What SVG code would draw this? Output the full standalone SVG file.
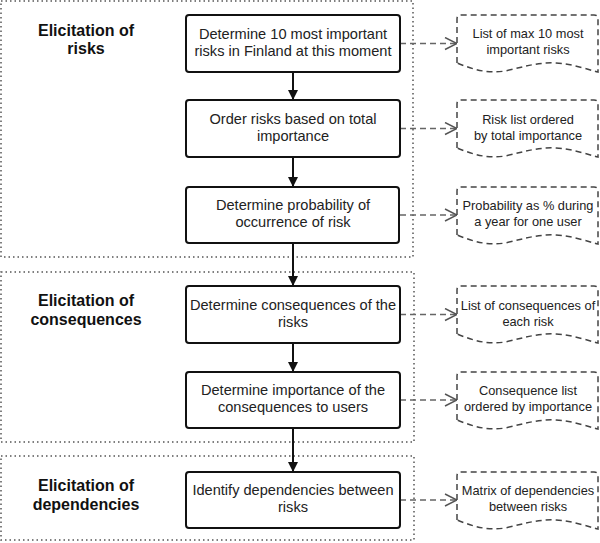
<svg xmlns="http://www.w3.org/2000/svg" width="600" height="543" viewBox="0 0 600 543">
<style>
.grp{fill:none;stroke:#555;stroke-width:1.5;stroke-dasharray:1.5 3}
.box{fill:#fff;stroke:#111;stroke-width:2}
.doc{fill:#fff;stroke:#444;stroke-width:1.5;stroke-dasharray:6 4}
.head{font-family:"Liberation Sans",Arial,sans-serif;font-size:16px;font-weight:bold;fill:#111;text-anchor:middle}
.bt{font-family:"Liberation Sans",Arial,sans-serif;font-size:14.6px;fill:#222;text-anchor:middle}
.dt{font-family:"Liberation Sans",Arial,sans-serif;font-size:12.8px;fill:#222;text-anchor:middle}
.flow{stroke:#111;stroke-width:2;fill:none}
.out{stroke:#666;stroke-width:1.5;fill:none;stroke-dasharray:6 4}
</style>
<defs>
<marker id="solid" markerWidth="10" markerHeight="12" refX="10" refY="6" orient="auto" markerUnits="userSpaceOnUse">
<path d="M0,1 L10,6 L0,11 Z" fill="#111"/>
</marker>
<marker id="open" markerWidth="14" markerHeight="14" refX="13" refY="7" orient="auto" markerUnits="userSpaceOnUse">
<path d="M1,1 L13,7 L1,13" fill="none" stroke="#555" stroke-width="1.5"/>
</marker>
<path id="docshape" d="M0,48 L0,4 Q0,0 4,0 L137,0 Q141,0 141,4 L141,57 C129,54 116,49 99,48 C81,47 66,52 48,56 C30,59 15,54 0,48 Z"/>
</defs>
<rect width="600" height="543" fill="#fff"/>

<g id="group-risks">
<rect class="grp" x="1" y="1" width="412" height="256"/>
<text class="head" x="86" y="36">Elicitation of</text>
<text class="head" x="86" y="54">risks</text>
</g>
<g id="group-consequences">
<rect class="grp" x="1" y="272" width="413" height="170"/>
<text class="head" x="86" y="306">Elicitation of</text>
<text class="head" x="86" y="325">consequences</text>
</g>
<g id="group-dependencies">
<rect class="grp" x="1" y="456" width="413" height="84"/>
<text class="head" x="86" y="491">Elicitation of</text>
<text class="head" x="86" y="510">dependencies</text>
</g>

<g id="connectors">
<line class="flow" x1="293" y1="72" x2="293" y2="100" marker-end="url(#solid)"/>
<line class="flow" x1="293" y1="157" x2="293" y2="187" marker-end="url(#solid)"/>
<line class="flow" x1="293" y1="243" x2="293" y2="286" marker-end="url(#solid)"/>
<line class="flow" x1="293" y1="343" x2="293" y2="372" marker-end="url(#solid)"/>
<line class="flow" x1="293" y1="428" x2="293" y2="472" marker-end="url(#solid)"/>
<line class="out" x1="400" y1="43.5" x2="457" y2="43.5" marker-end="url(#open)"/>
<line class="out" x1="400" y1="128.5" x2="457" y2="128.5" marker-end="url(#open)"/>
<line class="out" x1="400" y1="215" x2="457" y2="215" marker-end="url(#open)"/>
<line class="out" x1="400" y1="314.5" x2="457" y2="314.5" marker-end="url(#open)"/>
<line class="out" x1="400" y1="400" x2="457" y2="400" marker-end="url(#open)"/>
<line class="out" x1="400" y1="500" x2="457" y2="500" marker-end="url(#open)"/>
</g>

<g id="box1">
<rect class="box" x="186" y="15" width="214" height="57" rx="3"/>
<text class="bt" x="293" y="38.5">Determine 10 most important</text>
<text class="bt" x="293" y="55.5">risks in Finland at this moment</text>
</g>
<g id="box2">
<rect class="box" x="186" y="100" width="214" height="57" rx="3"/>
<text class="bt" x="293" y="123.5">Order risks based on total</text>
<text class="bt" x="293" y="140.5">importance</text>
</g>
<g id="box3">
<rect class="box" x="186" y="187" width="213" height="56" rx="3"/>
<text class="bt" x="293" y="209.5">Determine probability of</text>
<text class="bt" x="293" y="226.5">occurrence of risk</text>
</g>
<g id="box4">
<rect class="box" x="186" y="286" width="214" height="57" rx="3"/>
<text class="bt" x="293" y="309.5">Determine consequences of the</text>
<text class="bt" x="293" y="326.5">risks</text>
</g>
<g id="box5">
<rect class="box" x="186" y="372" width="214" height="56" rx="3"/>
<text class="bt" x="293" y="394.5">Determine importance of the</text>
<text class="bt" x="293" y="411.5">consequences to users</text>
</g>
<g id="box6">
<rect class="box" x="186" y="472" width="214" height="56" rx="3"/>
<text class="bt" x="293" y="494.5">Identify dependencies between</text>
<text class="bt" x="293" y="511.5">risks</text>
</g>

<g id="doc1">
<use href="#docshape" class="doc" x="457" y="15"/>
<text class="dt" x="528" y="37.5">List of max 10 most</text>
<text class="dt" x="528" y="53.5">important risks</text>
</g>
<g id="doc2">
<use href="#docshape" class="doc" x="457" y="100"/>
<text class="dt" x="528" y="123.5">Risk list ordered</text>
<text class="dt" x="528" y="139.5">by total importance</text>
</g>
<g id="doc3">
<use href="#docshape" class="doc" x="457" y="187"/>
<text class="dt" x="528" y="209.5">Probability as % during</text>
<text class="dt" x="528" y="225.5">a year for one user</text>
</g>
<g id="doc4">
<use href="#docshape" class="doc" x="457" y="286"/>
<text class="dt" x="528" y="309.5">List of consequences of</text>
<text class="dt" x="528" y="325.5">each risk</text>
</g>
<g id="doc5">
<use href="#docshape" class="doc" x="457" y="372"/>
<text class="dt" x="528" y="394.5">Consequence list</text>
<text class="dt" x="528" y="410.5">ordered by importance</text>
</g>
<g id="doc6">
<use href="#docshape" class="doc" x="457" y="472"/>
<text class="dt" x="528" y="494.5">Matrix of dependencies</text>
<text class="dt" x="528" y="510.5">between risks</text>
</g>
</svg>
